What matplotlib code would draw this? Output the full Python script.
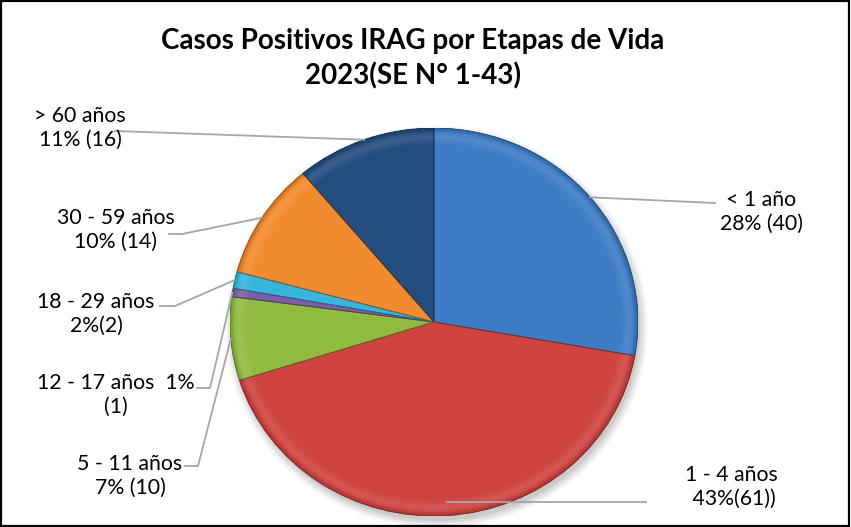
import matplotlib

matplotlib.use("Agg")
import matplotlib.pyplot as plt
from matplotlib.colors import to_rgb
from matplotlib.lines import Line2D
from matplotlib.patches import Ellipse, Rectangle, Wedge
import numpy as np

plt.rcParams["font.family"] = ["Lato", "DejaVu Sans"]

W, H = 851, 527

groups = ["< 1 año", "1 - 4 años", "5 - 11 años", "12 - 17 años",
          "18 - 29 años", "30 - 59 años", "> 60 años"]
cases = [40, 61, 10, 1, 2, 14, 16]
labels = ["< 1 año\n28% (40)", "1 - 4 años\n 43%(61))", "5 - 11 años\n7% (10)",
          "12 - 17 años  1%\n(1)", "18 - 29 años\n2%(2)", "30 - 59 años\n10% (14)",
          "> 60 años\n11% (16)"]
colors = ["#3E7CC5", "#CF4340", "#8FBB40", "#7D5DA8", "#35B6DA", "#F28A2E", "#244D7F"]

title_lines = ["Casos Positivos IRAG por Etapas de Vida", "2023(SE N° 1-43)"]

# label layout in pixels (text centre, leader end near text, optional elbow)
label_xy = [(761, 212), (731, 487), (130, 476), (116, 395), (96, 314), (116, 230), (80, 128)]
leader_end = [(715, 203), (646, 502), (185, 466), (197, 388), (160, 306), (169, 234), (115, 131)]
leader_elbow = [None, None, (198, 466), (210, 388), (175, 306), (182, 234), None]
anchor_r = [1.0, 0.93, 1.0, 1.0, 1.0, 1.0, 1.0]

# pie centre and radii in pixels
cx, cy, rx, ry = 434, 322, 204, 194


def mix(c, other, t):
    a = np.array(to_rgb(c))
    b = np.array(to_rgb(other))
    return tuple(a * (1 - t) + b * t)


fig = plt.figure(figsize=(W / 100, H / 100), dpi=100)
ax = fig.add_axes([(cx - rx) / W, (H - cy - ry) / H, 2 * rx / W, 2 * ry / H])

# soft shadow under the pie
for k, a in enumerate([0.04, 0.05, 0.06, 0.07]):
    s = 1.035 - k * 0.012
    ax.add_patch(Ellipse((0.012, -0.025), 2 * s, 2 * s, facecolor="black",
                         edgecolor="none", alpha=a, clip_on=False, zorder=0))

wedges, _ = ax.pie(cases, colors=colors, startangle=90, counterclock=False,
                   radius=1.0,
                   wedgeprops=dict(edgecolor="none", linewidth=0))

# soft bevel near the rim: light highlight fading inwards, darker outer edge
light = [0.03, 0.06, 0.09, 0.11, 0.09, 0.05]
dark = [0.06, 0.12, 0.2]
for w, c in zip(wedges, colors):
    t1, t2 = w.theta1, w.theta2
    for i, t in enumerate(light):
        r = 0.92 + i * 0.01
        ax.add_patch(Wedge((0, 0), r + 0.01, t1, t2, width=0.01,
                           facecolor=mix(c, "white", t), edgecolor="none", zorder=3))
    for i, t in enumerate(dark):
        r = 0.98 + i * 0.0067
        ax.add_patch(Wedge((0, 0), r + 0.0067, t1, t2, width=0.0067,
                           facecolor=mix(c, "black", t), edgecolor="none", zorder=3))
    ax.add_patch(Wedge((0, 0), 1.0, t1, t2, facecolor="none",
                       edgecolor=mix(c, "black", 0.4), linewidth=0.6, zorder=4))

ax.set_aspect("auto")
ax.set_xlim(-1, 1)
ax.set_ylim(-1, 1)

for text, y in zip(title_lines, [41, 76]):
    fig.text(413 / W, 1 - y / H, text, ha="center", va="center",
             fontsize=20, fontweight="bold", color="black")

for w, lab, (tx, ty), end, elbow, r in zip(wedges, labels, label_xy,
                                            leader_end, leader_elbow, anchor_r):
    mid = np.deg2rad((w.theta1 + w.theta2) / 2)
    ax_px = cx + rx * r * np.cos(mid)
    ay_px = cy - ry * r * np.sin(mid)
    pts = [end] + ([elbow] if elbow else []) + [(ax_px, ay_px)]
    xs = [p[0] / W for p in pts]
    ys = [1 - p[1] / H for p in pts]
    fig.add_artist(Line2D(xs, ys, color="#A6A6A6", linewidth=1.3,
                          transform=fig.transFigure))
    fig.text(tx / W, 1 - ty / H, lab, ha="center", va="center",
             multialignment="center", fontsize=15.3, color="black",
             linespacing=1.2)

fig.add_artist(Rectangle((0.001, 0.002), 0.997, 0.996, transform=fig.transFigure,
                         fill=False, edgecolor="black", linewidth=1.6))

fig.savefig("out.png", dpi=100)
